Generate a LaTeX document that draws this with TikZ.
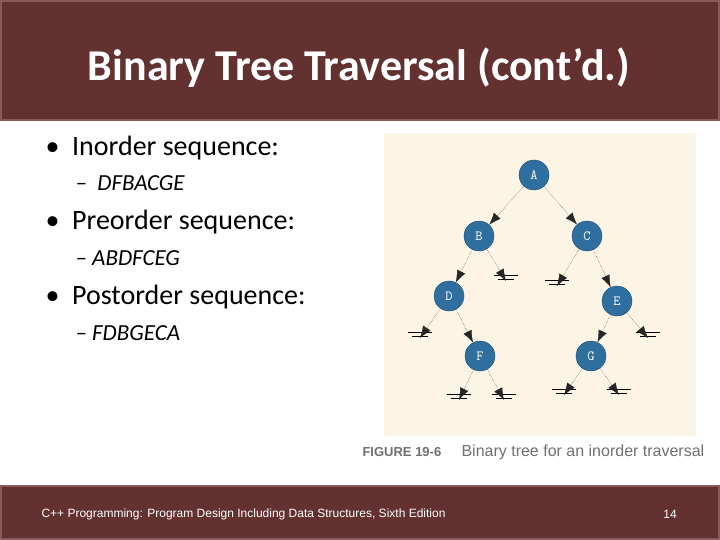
\documentclass[tikz,border=0pt]{standalone}
\usepackage{fontspec}
\setmainfont{Carlito}
\newfontfamily\footfont{Liberation Sans}
\usetikzlibrary{arrows.meta}
\definecolor{titlered}{HTML}{643131}
\definecolor{barline}{HTML}{8A5A5A}
\definecolor{panel}{HTML}{FCF4E4}
\definecolor{nodeblue}{HTML}{2F6F9F}
\definecolor{capgray}{HTML}{707070}

\begin{document}
\begin{tikzpicture}[x=1pt,y=-1pt,
    tnode/.style={circle,fill=nodeblue,draw=nodeblue!70!black,minimum size=30pt,inner sep=0pt,text=white,font=\ttfamily\fontsize{14}{14}\selectfont},
    link/.style={-{Latex[length=12pt,width=9pt]},black!85,densely dotted,thin},
    bullet/.style={anchor=west,font=\fontsize{28}{32}\selectfont},
    sub/.style={anchor=west,font=\itshape\fontsize{23}{26}\selectfont}]
    % Frame
    \useasboundingbox (0,0) rectangle (720,540);
    \fill[white] (0,0) rectangle (720,540);
    \fill[titlered,draw=barline,line width=1.5pt] (1,1) rectangle (719,120);
    \fill[titlered,draw=barline,line width=1.5pt] (1,486) rectangle (719,539);
    \node[text=white,font=\bfseries\fontsize{44}{48}\selectfont] (title) at (359,68) {Binary Tree Traversal (cont’d.)};
    \node[text=white,anchor=west,font=\footfont\fontsize{12}{14}\selectfont] (foot) at (38,514) {C++ Programming: Program Design Including Data Structures, Sixth Edition};
    \node[text=white,font=\footfont\fontsize{12}{14}\selectfont] (page) at (670,514) {14};
    % Bullets
    \node[bullet] (in) at (42,148) {\textbullet\ \ Inorder sequence:};
    \node[sub] (ins) at (72,183) {–\ \ DFBACGE};
    \node[bullet] (pre) at (42,222) {\textbullet\ \ Preorder sequence:};
    \node[sub] (pres) at (72,258) {– ABDFCEG};
    \node[bullet] (post) at (42,297) {\textbullet\ \ Postorder sequence:};
    \node[sub] (posts) at (72,333) {– FDBGECA};
    % Panel
    \fill[panel] (384,133) rectangle (696,436);
    \node[anchor=west,text=capgray,font=\footfont\bfseries\fontsize{13}{15}\selectfont] (fig) at (359,452) {FIGURE 19-6};
    \node[anchor=west,text=capgray,font=\footfont\fontsize{16}{18}\selectfont] (cap) at (458,452) {Binary tree for an inorder traversal};
    % Nodes
    \node[tnode] (A) at (534,175) {A};
    \node[tnode] (B) at (479,236) {B};
    \node[tnode] (C) at (587,236) {C};
    \node[tnode] (D) at (449,296) {D};
    \node[tnode] (E) at (617,301) {E};
    \node[tnode] (F) at (480,356) {F};
    \node[tnode] (G) at (591,356) {G};
    % Null links
    \foreach \n/\x/\y in {Bn/506/281, Cn/557/286, Dn/420/338, En/648/338, Fl/459/400, Fr/504/400, Gl/564/395, Gr/619/395} {
      \coordinate (\n) at (\x,\y);
      \draw[thick] ([xshift=-8pt,yshift=2pt]\n) -- ([xshift=8pt,yshift=2pt]\n);
      \draw[thick] ([xshift=-12pt,yshift=6pt]\n) -- ([xshift=12pt,yshift=6pt]\n);
    }
    % Links
    \foreach \a/\b in {A/B, A/C, B/D, B/Bn, C/Cn, C/E, D/Dn, D/F, E/G, E/En, F/Fl, F/Fr, G/Gl, G/Gr}
      \draw[link] (\a) -- (\b);
\end{tikzpicture}
\end{document}
